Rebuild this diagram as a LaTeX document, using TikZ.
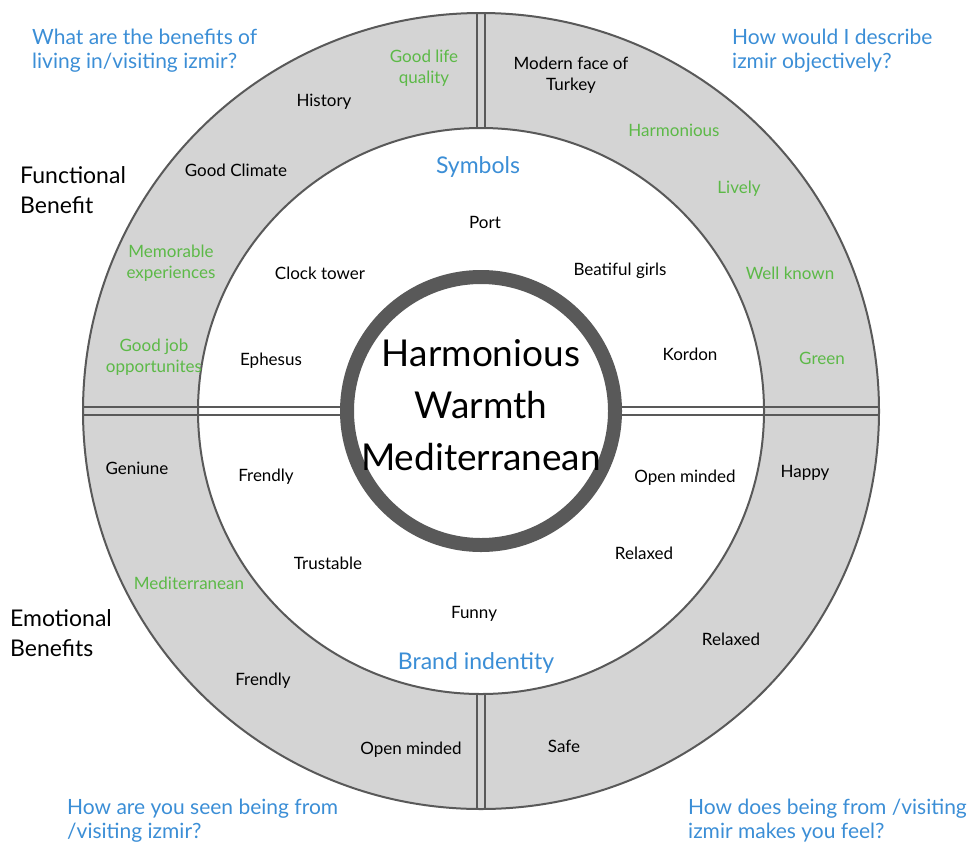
\documentclass[tikz,border=0pt]{standalone}
\usepackage{fontspec}
\setmainfont{Lato}
\usetikzlibrary{positioning,calc}
\definecolor{bandgray}{HTML}{D4D4D4}
\definecolor{rimgray}{HTML}{595959}
\definecolor{qblue}{HTML}{3B8ED6}
\definecolor{tgreen}{HTML}{5CB947}

\begin{document}
\begin{tikzpicture}[x=1pt,y=-1pt,
    word/.style={font=\fontsize{17}{21}\selectfont,align=center,inner sep=0pt},
    greenword/.style={word,text=tgreen},
    heading/.style={font=\fontsize{23}{26}\selectfont,text=qblue,inner sep=0pt},
    question/.style={font=\fontsize{21}{24}\selectfont,text=qblue,align=left,anchor=north west,inner sep=0pt},
    side/.style={font=\fontsize{23}{30}\selectfont,align=left,anchor=north west,inner sep=0pt},
    divider/.style={rimgray,line width=2.6pt}]
    \useasboundingbox (0,0) rectangle (973,846);
    \coordinate (c) at (481,411);

    % Outer band and inner disc
    \draw[fill=bandgray,draw=rimgray,line width=2pt] (c) circle (398);
    \draw[fill=white,draw=rimgray,line width=2pt] (c) circle (283);

    % Double dividers
    \coordinate (outW) at (83,411);
    \coordinate (ringW) at (341,411);
    \coordinate (ringE) at (621,411);
    \coordinate (outE) at (879,411);
    \coordinate (outN) at (481,13);
    \coordinate (inN) at (481,128);
    \coordinate (inS) at (481,694);
    \coordinate (outS) at (481,809);
    \foreach \s in {-4,4} {
      \draw[divider] ([yshift=\s pt]outW) -- ([yshift=\s pt]ringW);
      \draw[divider] ([yshift=\s pt]ringE) -- ([yshift=\s pt]outE);
      \draw[divider] ([xshift=\s pt]outN) -- ([xshift=\s pt]inN);
      \draw[divider] ([xshift=\s pt]inS) -- ([xshift=\s pt]outS);
    }

    % Core ring
    \draw[rimgray,fill=white,line width=14pt] (c) circle (134);
    \node[font=\fontsize{37}{52}\selectfont,align=center,inner sep=0pt] (core) at (481,405) {Harmonious\\Warmth\\Mediterranean};

    % Inner disc headings
    \node[heading] (symbols) at (478,167) {Symbols};
    \node[heading] (brand) at (476,663) {Brand indentity};

    % Inner disc words
    \node[word] (port) at (485,222) {Port};
    \node[word] (clock) at (320,273) {Clock tower};
    \node[word] (girls) at (620,271) {Beatiful girls};
    \node[word] (ephesus) at (271,361) {Ephesus};
    \node[word] (kordon) at (690,354) {Kordon};
    \node[word] (frendlyIn) at (266,477) {Frendly};
    \node[word] (openIn) at (685,478) {Open minded};
    \node[word] (trust) at (328,563) {Trustable};
    \node[word] (relaxedIn) at (644,553) {Relaxed};
    \node[word] (funny) at (474,614) {Funny};

    % Band words
    \node[word] (history) at (324,102) {History};
    \node[word] (climate) at (236,170) {Good Climate};
    \node[word] (modern) at (571,75) {Modern face of\\Turkey};
    \node[word] (geniune) at (137,468) {Geniune};
    \node[word] (frendlyOut) at (263,681) {Frendly};
    \node[word] (openOut) at (411,750) {Open minded};
    \node[word] (happy) at (805,473) {Happy};
    \node[word] (relaxedOut) at (731,639) {Relaxed};
    \node[word] (safe) at (564,746) {Safe};

    \node[greenword] (quality) at (424,68) {Good life\\quality};
    \node[greenword] (memorable) at (171,263) {Memorable\\experiences};
    \node[greenword] (job) at (154,357) {Good job\\opportunites};
    \node[greenword] (harmon) at (674,130) {Harmonious};
    \node[greenword] (lively) at (739,189) {Lively};
    \node[greenword] (known) at (790,273) {Well known};
    \node[greenword] (green) at (822,358) {Green};
    \node[greenword] (medit) at (189,583) {Mediterranean};

    % Questions in the corners
    \node[question] (qNW) at (32,29) {What are the benefits of\\living in/visiting izmir?};
    \node[question] (qNE) at (732,29) {How would I describe\\izmir objectively?};
    \node[question] (qSW) at (67,799) {How are you seen being from\\/visiting izmir?};
    \node[question] (qSE) at (688,799) {How does being from /visiting\\izmir makes you feel?};

    % Side labels
    \node[side] (functional) at (20,166) {Functional\\Benefit};
    \node[side] (emotional) at (10,609) {Emotional\\Benefits};
\end{tikzpicture}
\end{document}
